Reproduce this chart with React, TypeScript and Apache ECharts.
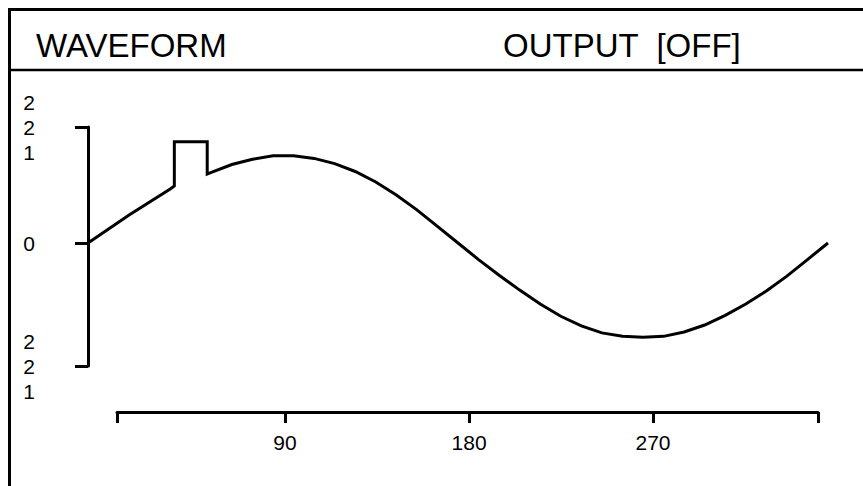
import React, { useEffect, useRef } from 'react';
import * as echarts from 'echarts';

const headerLeft = 'WAVEFORM';
const headerRight = 'OUTPUT  [OFF]';

// phase (degrees) and amplitude
const phaseDeg = [0, 10, 20, 30, 40, 42, 42, 58, 58, 60, 70, 80, 90, 100, 110, 120, 130, 140, 150, 160, 170, 180, 190, 200, 210, 220, 230, 240, 250, 260, 270, 280, 290, 300, 310, 320, 330, 340, 350, 360];
const amplitude = [0, 0.16, 0.32, 0.47, 0.62, 0.655, 1.16, 1.16, 0.79, 0.81, 0.9, 0.96, 1.0, 1.0, 0.97, 0.91, 0.82, 0.7, 0.55, 0.38, 0.19, 0, -0.19, -0.37, -0.54, -0.7, -0.84, -0.95, -1.03, -1.07, -1.08, -1.07, -1.02, -0.94, -0.83, -0.7, -0.55, -0.38, -0.19, 0];

const yTicks = [-1.41, 0, 1.33];
const yEndLabel = '2\n2\n1';
const yZeroLabel = '0';

const xTicks = [7.8, 90, 180, 270, 350.7];
const xTickLabels = [90, 180, 270];

const FONT = '"Liberation Sans", Arial, sans-serif';

export default function App() {
  const ref = useRef<HTMLDivElement>(null);
  useEffect(() => {
    if (!ref.current) return;
    const chart = echarts.init(ref.current, null, { renderer: 'svg' });
    const data = phaseDeg.map((d, i) => [d, amplitude[i]]);
    chart.setOption({
      animation: false,
      backgroundColor: '#ffffff',
      grid: [
        { left: 88, right: 35, top: 127, bottom: 120, containLabel: false },
        { left: 117, right: 45, top: 400, bottom: 74, containLabel: false },
      ],
      xAxis: [
        { type: 'value', gridIndex: 0, min: 0, max: 360, show: false },
        {
          type: 'value',
          gridIndex: 1,
          min: xTicks[0],
          max: xTicks[xTicks.length - 1],
          position: 'bottom',
          axisLine: { show: true, onZero: false, lineStyle: { color: '#000', width: 3 } },
          axisTick: { show: true, length: 11, customValues: xTicks, lineStyle: { color: '#000', width: 3 } },
          axisLabel: {
            customValues: xTickLabels,
            margin: 20,
            color: '#000',
            fontSize: 21,
            fontFamily: FONT,
          },
          splitLine: { show: false },
        },
      ],
      yAxis: [
        {
          type: 'value',
          gridIndex: 0,
          min: yTicks[0],
          max: yTicks[yTicks.length - 1],
          axisLine: { show: true, onZero: false, lineStyle: { color: '#000', width: 3 } },
          axisTick: { show: true, length: 13, customValues: yTicks, lineStyle: { color: '#000', width: 3 } },
          axisLabel: {
            customValues: yTicks,
            formatter: (v: number) => (Math.abs(v) < 1e-6 ? yZeroLabel : yEndLabel),
            margin: 53,
            color: '#000',
            fontSize: 21,
            lineHeight: 25,
            align: 'right',
            fontFamily: FONT,
          },
          splitLine: { show: false },
        },
        { type: 'value', gridIndex: 1, show: false },
      ],
      series: [
        {
          type: 'line',
          xAxisIndex: 0,
          yAxisIndex: 0,
          data,
          showSymbol: false,
          smooth: false,
          lineStyle: { color: '#000', width: 3, join: 'miter' },
        },
      ],
      graphic: [
        {
          type: 'rect',
          shape: { x: 9.5, y: 9.5, width: 1000, height: 700 },
          style: { fill: 'none', stroke: '#000', lineWidth: 3 },
          silent: true,
        },
        {
          type: 'line',
          shape: { x1: 9, y1: 70, x2: 863, y2: 70 },
          style: { stroke: '#000', lineWidth: 2.5 },
          silent: true,
        },
        {
          type: 'text',
          x: 36,
          y: 45,
          style: { text: headerLeft, fontSize: 33, fontFamily: FONT, fill: '#000', verticalAlign: 'middle', align: 'left' },
        },
        {
          type: 'text',
          x: 503,
          y: 45,
          style: { text: headerRight, fontSize: 33, fontFamily: FONT, fill: '#000', verticalAlign: 'middle', align: 'left' },
        },
      ],
    });
    return () => chart.dispose();
  }, []);
  return <div ref={ref} style={{ position: 'absolute', left: 0, top: 0, width: 863, height: 486 }} />;
}
